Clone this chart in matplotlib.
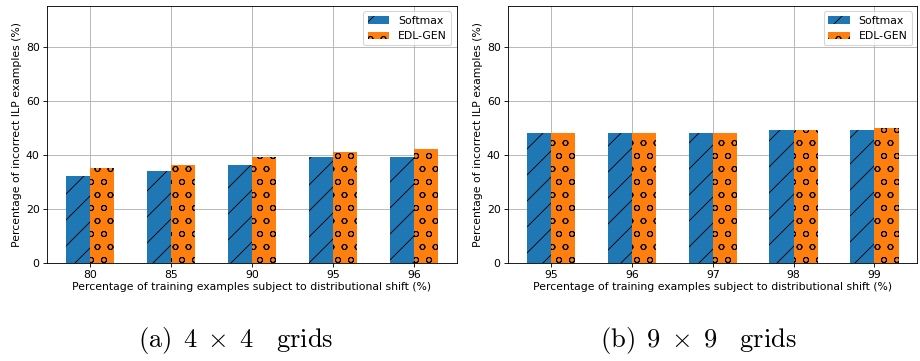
import numpy as np
import matplotlib
matplotlib.use('Agg')
import matplotlib.pyplot as plt

plt.rcParams['mathtext.fontset'] = 'cm'
plt.rcParams['hatch.linewidth'] = 0.8

# dados
shift_4x4 = ['80', '85', '90', '95', '96']
softmax_4x4 = [32, 34, 36, 39, 39]
edl_4x4 = [35, 36, 39, 41, 42]

shift_9x9 = ['95', '96', '97', '98', '99']
softmax_9x9 = [48, 48, 48, 49, 49]
edl_9x9 = [48, 48, 48, 49, 50]

legendas = ['Softmax', 'EDL-GEN']
legenda_a = r'$\mathrm{(a)}\enspace 4\;\times\;4\quad\mathrm{grids}$'
legenda_b = r'$\mathrm{(b)}\enspace 9\;\times\;9\quad\mathrm{grids}$'

dpi = 78
fig = plt.figure(figsize=(920/dpi, 361/dpi), dpi=dpi)
ax1 = fig.add_axes([47.3/920, 1 - 262.7/361, 409.4/920, 256.7/361])
ax2 = fig.add_axes([508.3/920, 1 - 262.7/361, 409.0/920, 256.7/361])

largura = 0.3


def desenha(ax, rotulos, soft, edl):
    x = np.arange(len(rotulos))
    ax.bar(x - largura/2, soft, largura, color='#1f77b4', hatch='/', label=legendas[0])
    ax.bar(x + largura/2, edl, largura, color='#ff7f0e', hatch='o', label=legendas[1])
    ax.set_xticks(x)
    ax.set_xticklabels(rotulos)
    ax.set_ylim(0, 95)
    ax.set_yticks([0, 20, 40, 60, 80])
    ax.set_axisbelow(True)
    ax.grid(True)
    ax.set_xlabel('Percentage of training examples subject to distributional shift (%)', labelpad=2)
    ax.set_ylabel('Percentage of incorrect ILP examples (%)')
    ax.legend(loc='upper right')


desenha(ax1, shift_4x4, softmax_4x4, edl_4x4)
desenha(ax2, shift_9x9, softmax_9x9, edl_9x9)

fig.text(236/920, 1 - 347/361, legenda_a, ha='center', va='baseline', fontsize=24.5)
fig.text(698/920, 1 - 347/361, legenda_b, ha='center', va='baseline', fontsize=24.5)

fig.savefig('out.png', dpi=dpi)
